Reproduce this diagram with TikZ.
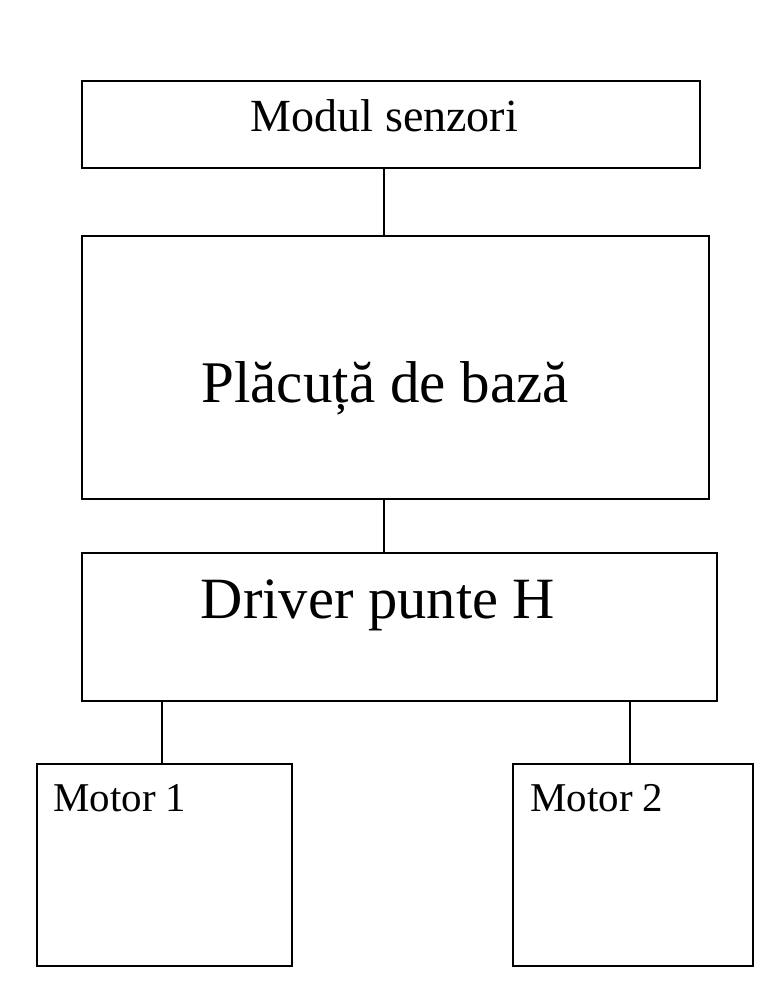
\documentclass[tikz,border=0pt]{standalone}
\usepackage{fontspec}
\setmainfont{Liberation Serif}
\begin{document}
\begin{tikzpicture}[x=0.02cm,y=-0.02cm,
  blockbox/.style={draw=black,line width=1.1pt,rectangle,inner sep=0pt},
  label/.style={inner sep=0pt,text=black},
  link/.style={draw=black,line width=1.1pt}]
\useasboundingbox (0,0) rectangle (782,989);
\fill[white] (0,0) rectangle (782,989);
% boxes (corner coordinates)
\coordinate (s1) at (82,81);  \coordinate (s2) at (700,168);
\coordinate (p1) at (82,236); \coordinate (p2) at (709,499);
\coordinate (d1) at (82,553); \coordinate (d2) at (717,701);
\coordinate (m1a) at (37,764); \coordinate (m1b) at (292,966);
\coordinate (m2a) at (513,764); \coordinate (m2b) at (753,966);
\draw[blockbox] (s1) rectangle (s2);
\draw[blockbox] (p1) rectangle (p2);
\draw[blockbox] (d1) rectangle (d2);
\draw[blockbox] (m1a) rectangle (m1b);
\draw[blockbox] (m2a) rectangle (m2b);
% texts
\node[label,anchor=base,font=\fontsize{26.2pt}{30pt}\selectfont] (senz) at (384.5,132) {Modul senzori};
\node[label,anchor=base,font=\fontsize{33.6pt}{38pt}\selectfont] (placa) at (385,402) {Plăcuță de bază};
\node[label,anchor=base,font=\fontsize{33.3pt}{38pt}\selectfont] (driver) at (378,618) {Driver punte H};
\node[label,anchor=base west,font=\fontsize{23.3pt}{27pt}\selectfont] (mot1) at (53,811) {Motor 1};
\node[label,anchor=base west,font=\fontsize{23.3pt}{27pt}\selectfont] (mot2) at (530,811) {Motor 2};
% connector points
\coordinate (c1a) at (384,168); \coordinate (c1b) at (384,236);
\coordinate (c2a) at (384,499); \coordinate (c2b) at (384,553);
\coordinate (c3a) at (162,701); \coordinate (c3b) at (162,764);
\coordinate (c4a) at (630,701); \coordinate (c4b) at (630,764);
\draw[link] (c1a) -- (c1b);
\draw[link] (c2a) -- (c2b);
\draw[link] (c3a) -- (c3b);
\draw[link] (c4a) -- (c4b);
\end{tikzpicture}
\end{document}
